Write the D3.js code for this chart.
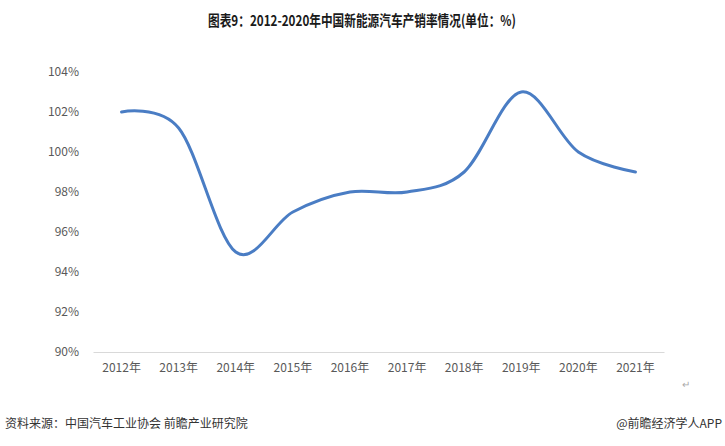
<!DOCTYPE html>
<html><head><meta charset="utf-8">
<script src="https://cdn.jsdelivr.net/npm/d3@7/dist/d3.min.js"></script>
<style>html,body{margin:0;padding:0;background:#fff;}svg{display:block;}</style>
</head><body>
<svg id="c" width="725" height="446"></svg>
<script>
const categories = ["2012年","2013年","2014年","2015年","2016年","2017年","2018年","2019年","2020年","2021年"];
const values = [102, 101.2, 95, 97, 98, 98, 99, 103, 100, 99];
const yTicks = [90, 92, 94, 96, 98, 100, 102, 104];
const titleText = "图表9：2012-2020年中国新能源汽车产销率情况(单位：%)";
const sourceText = "资料来源：中国汽车工业协会 前瞻产业研究院";
const brandText = "@前瞻经济学人APP";

const svg = d3.select("#c");
const font = "'Noto Sans CJK SC','Microsoft YaHei',sans-serif";

const x = d3.scaleBand().domain(categories).range([93, 664]);
const y = d3.scaleLinear().domain([90, 104]).range([352, 72]);

svg.append("text").attr("x", 362).attr("y", 26).attr("text-anchor", "middle")
  .attr("font-family", font).attr("font-weight", "bold").attr("font-size", 15)
  .attr("fill", "#1a1a1a").attr("textLength", 308).attr("lengthAdjust", "spacingAndGlyphs")
  .text(titleText);

// y axis labels
const ya = svg.append("g").attr("transform", "translate(79,0)")
  .call(d3.axisLeft(y).tickValues(yTicks).tickSize(0).tickPadding(0).tickFormat(d => d + "%"));
ya.select(".domain").remove();
ya.selectAll("text").attr("font-family", font).attr("font-size", 12).attr("fill", "#595959");

// x axis
const xa = svg.append("g").attr("transform", "translate(0,352)")
  .call(d3.axisBottom(x).tickSize(0).tickPadding(11));
xa.select(".domain").attr("stroke", "#d9d9d9").attr("stroke-width", 1);
xa.selectAll("text").attr("font-family", font).attr("font-size", 12).attr("fill", "#595959");

const line = d3.line()
  .x((d, i) => x(categories[i]) + x.bandwidth() / 2)
  .y(d => y(d))
  .curve(d3.curveCardinal.tension(0));

svg.append("path").datum(values).attr("d", line)
  .attr("fill", "none").attr("stroke", "#4a7dc4").attr("stroke-width", 3)
  .attr("stroke-linecap", "round");

svg.append("text").attr("x", 682).attr("y", 388).attr("font-family", font)
  .attr("font-size", 10).attr("fill", "#aaa").text("↵");

svg.append("text").attr("x", 5).attr("y", 428).attr("font-family", font)
  .attr("font-size", 12).attr("fill", "#333").text(sourceText);
svg.append("text").attr("x", 722).attr("y", 428).attr("text-anchor", "end").attr("font-family", font)
  .attr("font-size", 12).attr("fill", "#333").text(brandText);
</script>
</body></html>
